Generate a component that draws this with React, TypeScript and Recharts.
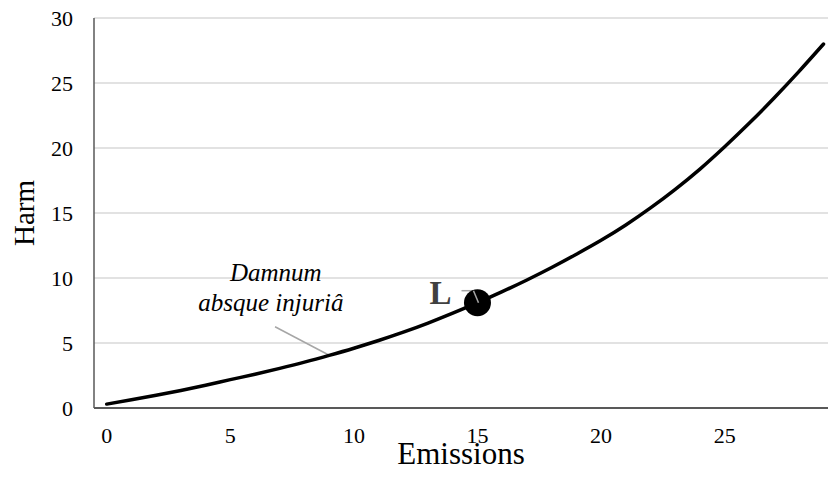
import { LineChart, Line, XAxis, YAxis, CartesianGrid, ReferenceDot, ReferenceLine } from "recharts";

// values
const emissions = [0, 1, 2, 3, 4, 5, 6, 7, 8, 9, 10, 11, 12, 13, 14, 15, 16, 17, 18, 19, 20, 21, 22, 23, 24, 25, 26, 27, 28, 29];
const harm = [
  0.3, 0.63, 0.98, 1.35, 1.75, 2.18, 2.6, 3.05, 3.53, 4.05, 4.6, 5.19, 5.83, 6.53, 7.29,
  8.1, 8.95, 9.85, 10.81, 11.83, 12.9, 14.08, 15.39, 16.82, 18.38, 20.1, 21.92, 23.85, 25.88, 28.0,
];
const xTicks = [0, 5, 10, 15, 20, 25];
const yTicks = [0, 5, 10, 15, 20, 25, 30];

const pointL = { x: 15, y: 8.1, label: "L" };
const noteLines = ["Damnum", "absque injuriâ"];
const noteAnchor = { x: 6.72, y: 9.79 };
const noteLeader = [{ x: 6.81, y: 6.25 }, { x: 9.04, y: 4.02 }];

const data = emissions.map((e, i) => ({ emissions: e, harm: harm[i] }));

const serif = "'Liberation Serif', 'Times New Roman', serif";

const HarmLabel = (props: any) => {
  const { viewBox } = props;
  const cx = viewBox.x + 24;
  const cy = viewBox.y + viewBox.height / 2;
  return (
    <text x={cx} y={cy} dy="0.35em" textAnchor="middle" transform={`rotate(-90 ${cx} ${cy})`}
      fontFamily={serif} fontSize={29} fill="#000">
      Harm
    </text>
  );
};

const DotL = (props: any) => {
  const { cx, cy } = props;
  return (
    <g>
      <text x={cx - 26} y={cy + 1} textAnchor="end" fontFamily={serif} fontWeight="bold" fontSize={33} fill="#404040">
        {pointL.label}
      </text>
      <polyline points={`${cx - 16},${cy - 12} ${cx - 4},${cy - 12}`} fill="none" stroke="#a6a6a6" strokeWidth={1.5} />
      <circle cx={cx} cy={cy} r={13.5} fill="#000" />
      <polyline points={`${cx - 4},${cy - 12} ${cx + 1},${cy}`} fill="none" stroke="#a6a6a6" strokeWidth={1.5} />
    </g>
  );
};

const Note = (props: any) => {
  const { cx, cy } = props;
  return (
    <text x={cx} y={cy} textAnchor="middle" fontFamily={serif} fontStyle="italic" fontSize={25} fill="#000">
      <tspan x={cx + 3}>{noteLines[0]}</tspan>
      <tspan x={cx - 2} dy={30.5}>{noteLines[1]}</tspan>
    </text>
  );
};

export default function App() {
  return (
    <div style={{ position: "absolute", left: 0, top: 0, background: "#fff" }}>
      <LineChart width={828} height={491} data={data} margin={{ top: 18, right: 0, bottom: 0, left: 0 }}>
        <CartesianGrid horizontal vertical={false} stroke="#d9d9d9" strokeWidth={1.5} />
        <XAxis
          dataKey="emissions"
          type="number"
          domain={[-0.514, 29.18]}
          ticks={xTicks}
          allowDataOverflow
          height={83}
          tickLine={false}
          tickSize={6}
          tickMargin={13}
          axisLine={{ stroke: "#595959", strokeWidth: 2 }}
          tick={{ fontFamily: serif, fontSize: 22, fill: "#000" }}
          label={{ value: "Emissions", position: "insideBottom", offset: 27, style: { fontFamily: serif, fontSize: 31, fill: "#000" } }}
        />
        <YAxis
          type="number"
          domain={[0, 30]}
          ticks={yTicks}
          width={94}
          tickLine={false}
          tickSize={6}
          tickMargin={15}
          axisLine={{ stroke: "#595959", strokeWidth: 1.5 }}
          tick={{ fontFamily: serif, fontSize: 22, fill: "#000" }}
          label={<HarmLabel />}
        />
        <ReferenceLine segment={noteLeader} stroke="#a6a6a6" strokeWidth={1.5} ifOverflow="visible" />
        <Line
          type="monotone"
          dataKey="harm"
          stroke="#000"
          strokeWidth={3.5}
          strokeLinecap="round"
          dot={false}
          activeDot={false}
          isAnimationActive={false}
        />
        <ReferenceDot x={noteAnchor.x} y={noteAnchor.y} r={0} shape={<Note />} ifOverflow="visible" />
        <ReferenceDot x={pointL.x} y={pointL.y} r={13.5} shape={<DotL />} ifOverflow="visible" />
      </LineChart>
    </div>
  );
}
